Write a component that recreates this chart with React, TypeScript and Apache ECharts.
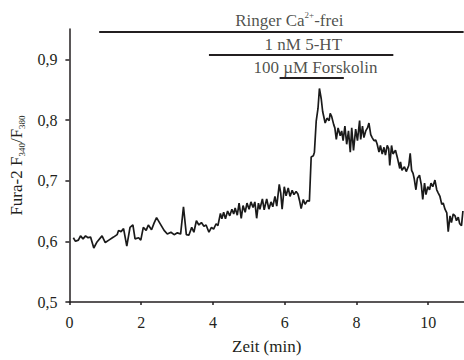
import React, { useEffect, useRef } from "react";
import * as echarts from "echarts";

// time in minutes
const timeMin = [
  0.11, 0.17, 0.25, 0.31, 0.38, 0.45, 0.52, 0.59, 0.68, 0.77,
  0.91, 1.0, 1.1, 1.23, 1.33, 1.37, 1.44, 1.51, 1.6, 1.69,
  1.77, 1.83, 1.93, 1.99, 2.06, 2.14, 2.2, 2.29, 2.36, 2.43,
  2.52, 2.64, 2.73, 2.83, 2.92, 3.01, 3.1, 3.18, 3.26, 3.33,
  3.41, 3.47, 3.54, 3.61, 3.68, 3.75, 3.81, 3.89, 3.96, 4.02,
  4.09, 4.14, 4.21, 4.25, 4.3, 4.35, 4.41, 4.47, 4.53, 4.58,
  4.62, 4.68, 4.73, 4.79, 4.84, 4.9, 4.95, 5.01, 5.06, 5.12,
  5.17, 5.22, 5.27, 5.31, 5.38, 5.43, 5.5, 5.56, 5.62, 5.67,
  5.73, 5.78, 5.85, 5.89, 5.93, 5.99, 6.04, 6.1, 6.15, 6.21,
  6.26, 6.32, 6.37, 6.42, 6.46, 6.52, 6.57, 6.63, 6.69, 6.74,
  6.8, 6.83, 6.88, 6.93, 6.97, 7.02, 7.06, 7.13, 7.18, 7.24,
  7.27, 7.31, 7.37, 7.4, 7.44, 7.49, 7.55, 7.59, 7.63, 7.68,
  7.73, 7.78, 7.83, 7.87, 7.92, 7.98, 8.03, 8.09, 8.12, 8.17,
  8.21, 8.26, 8.31, 8.35, 8.4, 8.44, 8.49, 8.54, 8.58, 8.63,
  8.67, 8.72, 8.77, 8.81, 8.86, 8.9, 8.93, 8.98, 9.02, 9.09,
  9.15, 9.21, 9.23, 9.27, 9.34, 9.39, 9.46, 9.5, 9.54, 9.58,
  9.61, 9.66, 9.7, 9.76, 9.81, 9.85, 9.9, 9.94, 9.99, 10.04,
  10.08, 10.13, 10.19, 10.24, 10.28, 10.33, 10.38, 10.42, 10.47, 10.52,
  10.56, 10.61, 10.65, 10.7, 10.75, 10.79, 10.84, 10.88, 10.93, 10.97,
];

// Fura-2 F340/F380 ratio
const ratio = [
  0.606, 0.6, 0.602, 0.609, 0.604, 0.609, 0.606, 0.607, 0.589, 0.599,
  0.609, 0.598, 0.602, 0.607, 0.611, 0.618, 0.616, 0.621, 0.592, 0.623,
  0.627, 0.604, 0.606, 0.602, 0.623, 0.618, 0.627, 0.619, 0.63, 0.639,
  0.63, 0.618, 0.612, 0.615, 0.611, 0.614, 0.612, 0.657, 0.611, 0.61,
  0.623, 0.615, 0.634, 0.627, 0.631, 0.625, 0.627, 0.615, 0.623, 0.62,
  0.629, 0.626, 0.646, 0.637, 0.648, 0.637, 0.65, 0.642, 0.653, 0.645,
  0.655, 0.643, 0.663, 0.638, 0.659, 0.648, 0.663, 0.653, 0.665, 0.656,
  0.665, 0.638, 0.663, 0.653, 0.67, 0.652, 0.67, 0.653, 0.665, 0.657,
  0.674, 0.658, 0.694, 0.68, 0.653, 0.69, 0.675, 0.688, 0.674, 0.684,
  0.677, 0.682, 0.678, 0.666, 0.654, 0.669, 0.661, 0.667, 0.666, 0.739,
  0.741, 0.747, 0.798, 0.819, 0.852, 0.835, 0.814, 0.795, 0.803, 0.799,
  0.811, 0.806, 0.792, 0.787, 0.768, 0.787, 0.774, 0.782, 0.766, 0.79,
  0.76, 0.782, 0.747, 0.787, 0.75, 0.785, 0.766, 0.799, 0.768, 0.79,
  0.771, 0.782, 0.787, 0.795, 0.776, 0.771, 0.766, 0.767, 0.76, 0.747,
  0.758, 0.744, 0.755, 0.742, 0.758, 0.753, 0.725, 0.758, 0.744, 0.75,
  0.736, 0.72, 0.731, 0.717, 0.723, 0.715, 0.725, 0.745, 0.717, 0.712,
  0.704, 0.685, 0.704, 0.709, 0.693, 0.669, 0.696, 0.677, 0.69, 0.685,
  0.696, 0.69, 0.701, 0.685, 0.68, 0.674, 0.661, 0.663, 0.653, 0.647,
  0.616, 0.642, 0.631, 0.645, 0.642, 0.634, 0.64, 0.629, 0.626, 0.65,
];

const xTicks = [0, 2, 4, 6, 8, 10];
const yTicks = [0.5, 0.6, 0.7, 0.8, 0.9];

// application bars (start/end in min, level in ratio units)
const barStart = [0.83, 3.89, 5.86];
const barEnd = [10.99, 9.03, 7.65];
const barLevel = [0.945, 0.908, 0.869];
const barLabels = [
  "{a|Ringer Ca}{sup|2+}{a|-frei}",
  "{a|1 nM 5-HT}",
  "{a|100 µM Forskolin}",
];
const labelTime = [6.13, 6.52, 6.86];
const labelLevel = [0.9645, 0.924, 0.887];

const INK = "#231f20";
const FONT = "Liberation Serif";

export default function App() {
  const ref = useRef<HTMLDivElement>(null);

  useEffect(() => {
    document.body.style.margin = "0";
    if (!ref.current) return;
    const chart = echarts.init(ref.current, undefined, { renderer: "svg" });
    const data = timeMin.map((t, i) => [t, ratio[i]]);

    chart.setOption({
      animation: false,
      textStyle: { fontFamily: FONT },
      grid: { left: 66, right: 0, top: 29, bottom: 52 },
      xAxis: {
        type: "value",
        min: 0,
        max: 11,
        name: "Zeit (min)",
        nameLocation: "middle",
        nameGap: 36,
        nameTextStyle: { fontFamily: FONT, fontSize: 17, color: INK },
        axisLine: { show: true, lineStyle: { color: INK, width: 1.5 } },
        axisTick: {
          show: true,
          length: 3,
          customValues: xTicks,
          lineStyle: { color: INK, width: 1.5 },
        },
        axisLabel: {
          customValues: xTicks,
          margin: 12,
          fontFamily: FONT,
          fontSize: 16,
          color: INK,
        },
        splitLine: { show: false },
      },
      yAxis: {
        type: "value",
        min: 0.5,
        max: 0.95,
        name: "{a|Fura-2 F}{s|340}{a|/F}{s|380}",
        nameLocation: "middle",
        nameGap: 36,
        nameTextStyle: {
          fontFamily: FONT,
          fontSize: 17,
          color: INK,
          rich: {
            a: { fontFamily: FONT, fontSize: 17, color: INK, lineHeight: 20 },
            s: {
              fontFamily: FONT,
              fontSize: 9,
              color: INK,
              verticalAlign: "bottom",
              lineHeight: 14,
            },
          },
        },
        axisLine: { show: true, lineStyle: { color: INK, width: 1.5 } },
        axisTick: {
          show: true,
          length: 4,
          customValues: yTicks,
          lineStyle: { color: INK, width: 1.5 },
        },
        axisLabel: {
          customValues: yTicks,
          margin: 12,
          fontFamily: FONT,
          fontSize: 16,
          color: INK,
          formatter: (v: number) => v.toFixed(1).replace(".", ","),
        },
        splitLine: { show: false },
      },
      series: [
        {
          type: "line",
          data,
          symbol: "none",
          showSymbol: false,
          lineStyle: { color: "#1a1a1a", width: 1.7 },
          markLine: {
            silent: true,
            symbol: ["none", "none"],
            label: { show: false },
            lineStyle: { color: INK, width: 2, type: "solid" },
            data: barStart.map((s, i) => [
              { coord: [s, barLevel[i]] },
              { coord: [barEnd[i], barLevel[i]] },
            ]),
          },
        },
        {
          type: "scatter",
          data: labelTime.map((t, i) => [t, labelLevel[i]]),
          symbolSize: 1,
          clip: false,
          silent: true,
          itemStyle: { color: "rgba(0,0,0,0)" },
          label: {
            show: true,
            position: "inside",
            formatter: (p: any) => barLabels[p.dataIndex],
            fontFamily: FONT,
            fontSize: 17,
            color: INK,
            rich: {
              a: { fontFamily: FONT, fontSize: 17, color: INK, lineHeight: 20 },
              sup: {
                fontFamily: FONT,
                fontSize: 9,
                color: INK,
                verticalAlign: "top",
                lineHeight: 12,
              },
            },
          },
        },
      ],
    });

    return () => chart.dispose();
  }, []);

  return <div ref={ref} style={{ width: 464, height: 360 }} />;
}
